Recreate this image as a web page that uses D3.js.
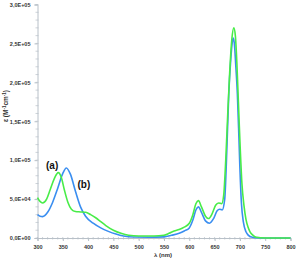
<!DOCTYPE html>
<html><head><meta charset="utf-8">
<script src="https://cdn.jsdelivr.net/npm/d3@7"></script>
<style>body{margin:0;background:#fff}svg{display:block}</style>
</head><body>
<svg id="c" width="302" height="261"></svg>
<script>
const wavelengthsA = [300,305,310,318,325,333,341,347,353,360,367,375,385,395,405,415,425,435,450,465,480,500,530,550,560,570,580,590,600,607,613,618,624,632,638,645,652,658,664,668,672,676,680,684,688,691,694,697,700,704,708,712,716,720,725,732,750,800];
const seriesA = [5.2e4,4.7e4,4.5e4,5.0e4,6.2e4,7.6e4,8.4e4,7.8e4,6.2e4,4.6e4,3.7e4,3.4e4,3.35e4,3.3e4,3.0e4,2.6e4,2.1e4,1.6e4,1.0e4,0.6e4,0.35e4,0.25e4,0.25e4,0.35e4,0.6e4,0.9e4,1.1e4,1.4e4,1.9e4,3.0e4,4.4e4,4.8e4,4.0e4,2.8e4,2.5e4,3.1e4,4.2e4,4.5e4,4.4e4,5.5e4,1.0e5,1.6e5,2.15e5,2.55e5,2.7e5,2.6e5,2.25e5,1.75e5,1.25e5,7e4,4.2e4,2.4e4,1.4e4,0.8e4,0.4e4,0.1e4,0,0];
const wavelengthsB = [300,305,310,320,330,340,350,357,365,375,385,395,410,425,440,455,470,490,520,550,565,580,590,600,607,613,618,624,632,640,648,655,660,665,670,674,678,682,685,687,689,692,695,698,700,703,707,712,716,720,730,750,800];
const seriesB = [3.0e4,2.8e4,2.75e4,3.3e4,4.6e4,6.4e4,8.3e4,9.0e4,8.2e4,6.0e4,4.0e4,2.8e4,1.9e4,1.3e4,0.85e4,0.5e4,0.25e4,0.12e4,0.1e4,0.15e4,0.35e4,0.6e4,0.9e4,1.3e4,2.3e4,3.6e4,4.0e4,3.3e4,2.2e4,1.9e4,2.5e4,3.5e4,3.7e4,3.6e4,5.0e4,1.1e5,1.85e5,2.3e5,2.52e5,2.57e5,2.5e5,2.2e5,1.85e5,1.3e5,9e4,4.5e4,2e4,0.8e4,0.4e4,0.2e4,0.05e4,0,0];
const xTicks = [300,350,400,450,500,550,600,650,700,750,800];
const yTicks = [0,5e4,1e5,1.5e5,2e5,2.5e5,3e5];
const yTickLabels = ["0,0E+00","5,0E+04","1,0E+05","1,5E+05","2,0E+05","2,5E+05","3,0E+05"];

const svg = d3.select("#c");
const x = d3.scaleLinear().domain([300,800]).range([37.5,290.5]);
const y = d3.scaleLinear().domain([0,3e5]).range([238,4.5]);
const axisColor = "#b8c0c8";
const font = "'Liberation Sans', Arial, sans-serif";

// minor ticks
svg.append("g").selectAll("line").data(d3.range(0,300001,1e4)).join("line")
  .attr("x1",35.5).attr("x2",38.5).attr("y1",d=>y(d)).attr("y2",d=>y(d))
  .attr("stroke",axisColor).attr("stroke-width",0.7);
svg.append("g").selectAll("line").data(d3.range(300,801,10)).join("line")
  .attr("x1",d=>x(d)).attr("x2",d=>x(d)).attr("y1",237).attr("y2",239.5)
  .attr("stroke",axisColor).attr("stroke-width",0.7);

const gy = svg.append("g").attr("transform","translate(37.5,0)")
  .call(d3.axisLeft(y).tickValues(yTicks).tickFormat((d,i)=>yTickLabels[i]).tickSize(3).tickPadding(4));
const gx = svg.append("g").attr("transform","translate(0,238)")
  .call(d3.axisBottom(x).tickValues(xTicks).tickFormat(d3.format("d")).tickSize(3).tickPadding(4));
[gx,gy].forEach(g=>{
  g.select(".domain").attr("stroke",axisColor);
  g.selectAll(".tick line").attr("stroke",axisColor);
  g.selectAll("text").attr("fill","#333").attr("font-size",5.5).attr("font-weight","bold").attr("font-family",font);
});

const line = (xs,ys)=>d3.line().x((d,i)=>x(xs[i])).y(d=>y(d)).curve(d3.curveMonotoneX)(ys);
svg.append("path").attr("d",line(wavelengthsB,seriesB)).attr("fill","none").attr("stroke","#3a8ef0").attr("stroke-width",1.6);
svg.append("path").attr("d",line(wavelengthsA,seriesA)).attr("fill","none").attr("stroke","#48ec48").attr("stroke-width",1.6);

svg.append("text").attr("x",46).attr("y",169).text("(a)").attr("font-size",10).attr("font-weight","bold").attr("font-family",font).attr("fill","#111");
svg.append("text").attr("x",77.5).attr("y",188).text("(b)").attr("font-size",10).attr("font-weight","bold").attr("font-family",font).attr("fill","#111");

svg.append("text").attr("x",163).attr("y",257).attr("text-anchor","middle").text("λ (nm)")
  .attr("font-size",6).attr("font-weight","bold").attr("font-family",font).attr("fill","#333");
const yt = svg.append("text").attr("transform","translate(8,106) rotate(-90)").attr("text-anchor","middle")
  .attr("font-size",6.5).attr("font-weight","bold").attr("font-family",font).attr("fill","#333");
yt.append("tspan").text("ε (M");
yt.append("tspan").text("-1").attr("font-size",4.5).attr("dy",-2.2);
yt.append("tspan").text("cm").attr("dy",2.2);
yt.append("tspan").text("-1").attr("font-size",4.5).attr("dy",-2.2);
yt.append("tspan").text(")").attr("dy",2.2);
</script>
</body></html>
